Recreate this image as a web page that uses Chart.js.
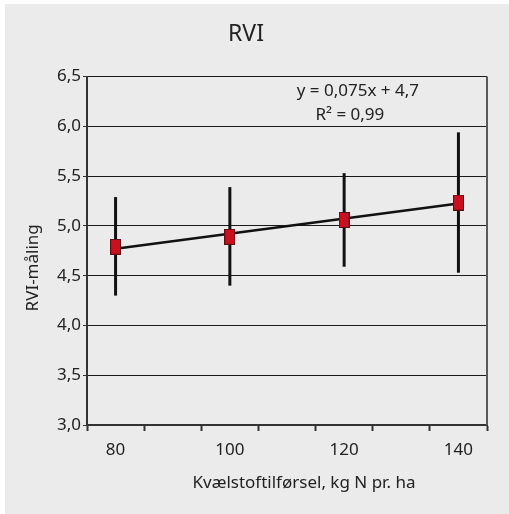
<!DOCTYPE html>
<html>
<head>
<meta charset="utf-8">
<script src="https://cdn.jsdelivr.net/npm/chart.js@4"></script>
<style>
  html, body { margin: 0; padding: 0; background: #ffffff; }
  #wrap { width: 509px; height: 514px; }
</style>
</head>
<body>
<div id="wrap"><canvas id="rvi-chart" width="509" height="514"></canvas></div>
<script>
const xLabels = ["80", "100", "120", "140"];
const rviMeans = [4.79, 4.89, 5.06, 5.235];
const rviLow = [4.3, 4.4, 4.59, 4.53];
const rviHigh = [5.29, 5.39, 5.53, 5.94];
const trendValues = [4.77, 5.225]; // at 80 and 140
const yTicks = [3.0, 3.5, 4.0, 4.5, 5.0, 5.5, 6.0, 6.5];
const trendText = ["y = 0,075x + 4,7", "R\u00b2 = 0,99"];

const FONT = "'Noto Sans', 'Open Sans', sans-serif";
const TEXT = "#222222";

// blank slot between the categories (gives the 7 tick segments)
const slots = [];
xLabels.forEach((lab, i) => {
  slots.push(lab);
  if (i < xLabels.length - 1) slots.push(" ");
});
const slotOf = (i) => i * 2;

const meanData = slots.map(() => null);
rviMeans.forEach((v, i) => { meanData[slotOf(i)] = v; });
const trendData = slots.map(() => null);
trendData[slotOf(0)] = trendValues[0];
trendData[slotOf(xLabels.length - 1)] = trendValues[1];

// rectangular marker
const marker = document.createElement("canvas");
marker.width = 11;
marker.height = 16;
const mctx = marker.getContext("2d");
mctx.fillStyle = "#c8101f";
mctx.fillRect(0, 0, 11, 16);
mctx.strokeStyle = "#5b0d12";
mctx.lineWidth = 1;
mctx.strokeRect(0.5, 0.5, 10, 15);

const backgroundPlugin = {
  id: "panelBg",
  beforeDraw(chart) {
    const { ctx } = chart;
    ctx.save();
    ctx.fillStyle = "#ebebeb";
    ctx.fillRect(5, 4, chart.width - 5, chart.height - 4);
    ctx.restore();
  },
};

const errorBarPlugin = {
  id: "errorBars",
  beforeDatasetsDraw(chart) {
    const { ctx, scales } = chart;
    ctx.save();
    ctx.strokeStyle = "#111111";
    ctx.lineWidth = 3;
    rviMeans.forEach((v, i) => {
      const x = scales.x.getPixelForValue(slotOf(i));
      ctx.beginPath();
      ctx.moveTo(x, scales.y.getPixelForValue(rviHigh[i]));
      ctx.lineTo(x, scales.y.getPixelForValue(rviLow[i]));
      ctx.stroke();
    });
    ctx.restore();
  },
  afterDraw(chart) {
    const { ctx, chartArea, scales } = chart;
    ctx.save();
    // right frame line
    ctx.strokeStyle = "#5a5a5a";
    ctx.lineWidth = 2;
    ctx.beginPath();
    ctx.moveTo(chartArea.right, chartArea.top);
    ctx.lineTo(chartArea.right, chartArea.bottom);
    ctx.stroke();
    // trend equation
    ctx.fillStyle = TEXT;
    ctx.font = "17px " + FONT;
    ctx.textAlign = "center";
    ctx.textBaseline = "middle";
    ctx.fillText(trendText[0], scales.x.getPixelForValue(4.24), scales.y.getPixelForValue(6.35));
    ctx.fillText(trendText[1], scales.x.getPixelForValue(4.1), scales.y.getPixelForValue(6.11));
    ctx.restore();
  },
};

new Chart(document.getElementById("rvi-chart"), {
  type: "line",
  data: {
    labels: slots,
    datasets: [
      {
        label: "RVI",
        data: meanData,
        showLine: false,
        pointStyle: marker,
        pointRadius: 8,
        spanGaps: true,
      },
      {
        label: "Trend",
        data: trendData,
        borderColor: "#111111",
        borderWidth: 2.5,
        pointRadius: 0,
        spanGaps: true,
      },
    ],
  },
  options: {
    responsive: false,
    animation: false,
    layout: { padding: { left: 5, top: 4, right: 22, bottom: 0 } },
    plugins: {
      legend: { display: false },
      tooltip: { enabled: false },
      title: {
        display: true,
        text: "RVI",
        color: TEXT,
        font: { family: FONT, size: 23, weight: "normal", lineHeight: 1.2 },
        padding: { top: 17, bottom: 28 },
      },
    },
    scales: {
      x: {
        type: "category",
        offset: true,
        grid: {
          offset: true,
          drawOnChartArea: false,
          drawTicks: true,
          tickLength: 6,
          tickWidth: 2,
          tickColor: "#333333",
        },
        border: { color: "#333333", width: 2 },
        ticks: {
          color: TEXT,
          font: { family: FONT, size: 17 },
          padding: 9,
          autoSkip: false,
          maxRotation: 0,
        },
        title: {
          display: true,
          text: "\u2003\u2003Kvælstoftilførsel, kg N pr. ha",
          color: TEXT,
          font: { family: FONT, size: 17, lineHeight: 1.2 },
          padding: { top: 0, bottom: 21 },
        },
        afterFit(scale) { scale.height = 89; },
      },
      y: {
        min: 3.0,
        max: 6.5,
        afterBuildTicks(scale) { scale.ticks = yTicks.map((v) => ({ value: v })); },
        grid: {
          color: "#1a1a1a",
          lineWidth: 1,
          tickLength: 4,
          tickColor: "#333333",
        },
        border: { color: "#333333", width: 2 },
        ticks: {
          color: TEXT,
          font: { family: FONT, size: 17 },
          padding: 2,
          callback: (v) => Number(v).toFixed(1).replace(".", ","),
        },
        title: {
          display: true,
          text: "RVI-måling\u2003\u2003",
          color: TEXT,
          font: { family: FONT, size: 17, lineHeight: 1.2 },
          padding: { top: 18, bottom: 0 },
        },
        afterFit(scale) { scale.width = 82; },
      },
    },
  },
  plugins: [backgroundPlugin, errorBarPlugin],
});
</script>
</body>
</html>
